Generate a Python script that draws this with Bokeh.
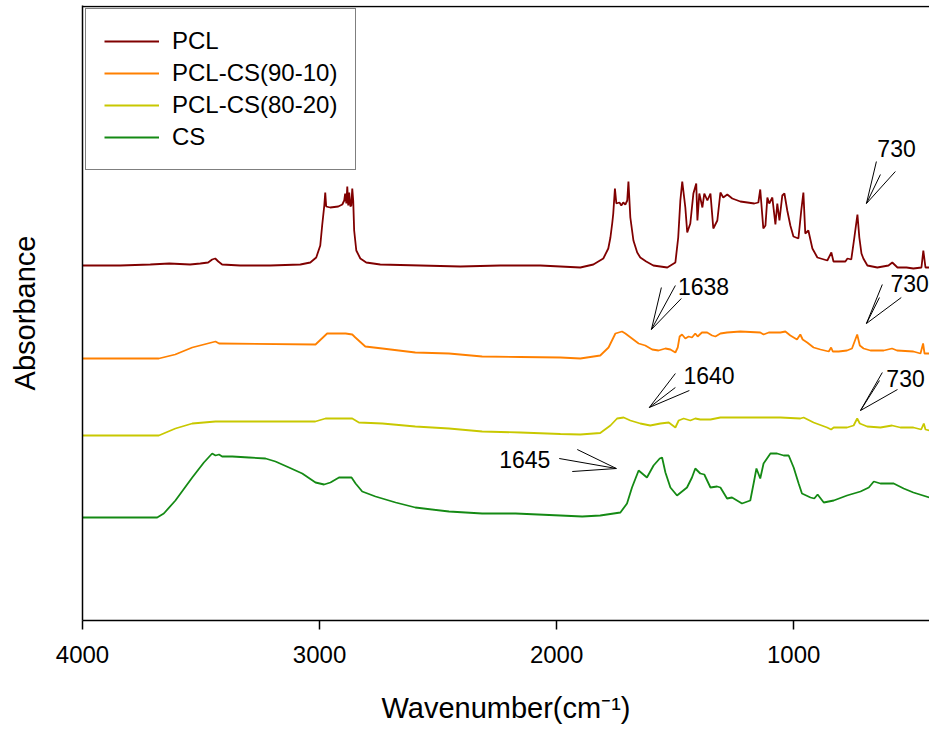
from bokeh.plotting import figure
from bokeh.models import Range1d, FixedTicker, Legend, LegendItem, Label, Span
from bokeh.embed import file_html
from bokeh.resources import INLINE

FONT = "Liberation Sans"

# ---- spectra (wavenumber in cm-1, absorbance in arbitrary offset units) ----
pcl_wn = [4000, 3841, 3714, 3634, 3546, 3503, 3470, 3453, 3440, 3427, 3411, 3335, 3208, 3081, 3039, 3014,
          2997, 2989, 2980, 2976, 2972, 2955, 2921, 2904, 2896, 2892, 2887, 2883, 2879, 2875, 2870, 2866,
          2862, 2858, 2854, 2845, 2828, 2803, 2744, 2575, 2406, 2238, 2069, 1984, 1900, 1845, 1803, 1782,
          1773, 1765, 1761, 1754, 1748, 1735, 1727, 1719, 1710, 1702, 1697, 1689, 1676, 1660, 1647, 1622,
          1592, 1533, 1499, 1487, 1478, 1470, 1457, 1449, 1436, 1423, 1411, 1406, 1398, 1385, 1377, 1364,
          1351, 1339, 1322, 1309, 1297, 1280, 1259, 1225, 1195, 1166, 1149, 1141, 1128, 1119, 1111, 1103,
          1090, 1077, 1069, 1060, 1048, 1039, 1027, 1014, 1001, 980, 968, 959, 951, 938, 921, 900, 858, 841,
          832, 782, 773, 757, 744, 731, 723, 714, 706, 689, 647, 600, 584, 562, 524, 495, 461, 453, 444, 427]
pcl_abs = [355, 355, 356, 357, 356, 357, 358, 361, 362, 359, 356, 355, 355, 356, 358, 363,
           375, 395, 415, 428, 414, 413, 414, 416, 420, 427, 417, 434, 415, 428, 414, 415,
           432, 420, 390, 370, 362, 358, 356, 355, 354, 355, 355, 354, 353, 356, 362, 372,
           383, 398, 407, 432, 417, 418, 415, 418, 416, 420, 439, 403, 380, 368, 363, 359,
           355, 353, 358, 383, 420, 439, 413, 388, 397, 427, 437, 400, 427, 413, 427, 420,
           427, 392, 400, 428, 423, 426, 422, 419, 418, 417, 418, 431, 392, 395, 423, 417,
           423, 396, 417, 400, 425, 427, 410, 395, 384, 382, 410, 428, 387, 390, 372, 363, 360, 368,
           359, 359, 362, 361, 383, 406, 383, 367, 362, 355, 353, 355, 358, 353, 353, 352, 353, 370, 353, 353]

pcl90_wn = [4000, 3678, 3609, 3537, 3439, 3424, 3017, 2968, 2890, 2862, 2849, 2807, 2735, 2596, 2454, 2314,
            2153, 1984, 1900, 1816, 1781, 1752, 1724, 1710, 1682, 1654, 1626, 1597, 1570, 1541, 1520, 1499,
            1489, 1481, 1471, 1457, 1443, 1429, 1415, 1405, 1387, 1365, 1344, 1330, 1309, 1281, 1225, 1141,
            1127, 1105, 1056, 1035, 1014, 986, 972, 962, 943, 916, 887, 852, 842, 835, 810, 775, 754, 732,
            721, 705, 676, 620, 585, 564, 495, 465, 454, 448, 427]
pcl90_abs = [262, 262, 266, 273, 279, 277, 276, 287, 287, 286, 283, 274, 272, 268, 267, 264,
             263.5, 263, 262, 265, 273, 287, 289, 287, 282, 277, 275, 271, 270, 272, 271, 268,
             273, 284, 286, 282, 284, 283, 287, 284, 288, 288, 285, 284, 287, 288, 289, 288,
             286, 288, 288, 289, 285, 281, 286, 281, 278, 273, 271, 269, 273, 269, 269, 270, 272, 286,
             275, 272, 270, 270, 272, 270, 269, 267, 277, 267, 267]

pcl80_wn = [4000, 3678, 3608, 3537, 3439, 3018, 2975, 2862, 2834, 2735, 2596, 2454, 2314, 2153, 1984, 1900,
            1816, 1773, 1745, 1717, 1689, 1647, 1605, 1562, 1527, 1499, 1485, 1464, 1436, 1415, 1394, 1351,
            1309, 1197, 1056, 972, 958, 916, 859, 842, 831, 775, 747, 732, 721, 690, 634, 585, 550, 495,
            462, 451, 444, 427]
pcl80_abs = [185, 185, 192, 197, 199, 199, 202, 202, 198, 197, 194, 192, 189, 188, 186.5, 186,
             187.5, 195, 202, 203, 200, 197, 195, 197, 198, 193, 200, 202, 200, 202, 201, 201,
             203, 203, 203, 202, 203, 198, 193, 191, 193, 193, 195, 202, 197, 194, 193, 195, 193, 193,
             191, 197, 191, 190]

cs_wn = [4000, 3685, 3657, 3608, 3537, 3488, 3453, 3439, 3424, 3411, 3368, 3298, 3228, 3186, 3129, 3073,
         3017, 2981, 2954, 2918, 2890, 2865, 2848, 2820, 2764, 2679, 2596, 2454, 2314, 2173, 1984, 1892,
         1816, 1731, 1703, 1682, 1654, 1619, 1591, 1565, 1555, 1541, 1520, 1492, 1450, 1429, 1415, 1394,
         1377, 1351, 1323, 1309, 1281, 1260, 1218, 1183, 1169, 1157, 1141, 1127, 1098, 1070, 1042, 1021,
         1000, 979, 965, 929, 913, 899, 873, 831, 775, 718, 683, 662, 634, 578, 536, 495, 427]
cs_abs = [103, 103, 107, 120, 143, 158, 167, 165, 166, 164, 164, 163, 162, 159, 153, 147,
          138, 136, 138, 143, 143, 143, 137, 129, 124, 118, 113, 109, 107, 107, 105, 104,
          105, 108, 117, 133, 150, 143, 155, 162, 163, 148, 133, 125, 133, 143, 152, 147,
          146, 133, 134, 133, 122, 123, 117, 120, 137, 152, 142, 157, 167, 167, 165, 165,
          153, 137, 127, 123, 122, 126, 118, 120, 125, 129, 133, 139, 137, 137, 132, 128, 123]

series_names = ["PCL", "PCL-CS(90-10)", "PCL-CS(80-20)", "CS"]
series_colors = ["#800000", "#FF8000", "#C8C800", "#148A14"]
series_x = [pcl_wn, pcl90_wn, pcl80_wn, cs_wn]
series_y = [pcl_abs, pcl90_abs, pcl80_abs, cs_abs]

x_ticks = [4000, 3000, 2000, 1000]

# ---- peak annotations: label, text anchor, arrow tip, three arrow line ends ----
ann_text = ["730", "1638", "730", "1640", "730", "1645"]
ann_tx = [647, 1488, 592, 1465, 609, 2242]
ann_ty = [472, 334, 337, 245, 242, 161]
tip_x = [693, 1600, 693, 1609, 718, 1748]
tip_y = [417, 291, 297, 213, 210, 152]
end_x = [[651, 634, 571], [1558, 1499, 1474], [626, 638, 546], [1499, 1499, 1440], [626, 638, 562], [1989, 1913, 1934]]
end_y = [[459, 446, 449], [333, 335, 322], [336, 323, 323], [247, 233, 230], [248, 240, 231], [162, 171, 149]]

p = figure(width=929, height=731, output_backend="svg", toolbar_location=None,
           x_range=Range1d(4000, 427), y_range=Range1d(0, 615),
           min_border_left=82, min_border_right=0, min_border_top=5, min_border_bottom=111)
p.outline_line_color = None
p.grid.visible = False
p.background_fill_color = "white"
p.border_fill_color = "white"

renderers = []
for xs, ys, c in zip(series_x, series_y, series_colors):
    renderers.append(p.line(xs, ys, line_color=c, line_width=1.8))

# arrows
for i in range(len(ann_text)):
    x0 = [tip_x[i]] * 3
    y0 = [tip_y[i]] * 3
    p.segment(x0=x0, y0=y0, x1=end_x[i], y1=end_y[i], line_color="black", line_width=1)
    p.add_layout(Label(x=ann_tx[i], y=ann_ty[i], text=ann_text[i], text_font=FONT,
                       text_font_size="23px", text_color="black", text_baseline="alphabetic",
                       text_align="left"))

# top frame line
p.add_layout(Span(location=614, dimension="width", line_color="black", line_width=1.5))

# axes
xa = p.xaxis[0]
xa.ticker = FixedTicker(ticks=x_ticks)
xa.minor_tick_line_color = None
xa.major_tick_in = 0
xa.major_tick_out = 9
xa.major_tick_line_color = "black"
xa.major_tick_line_width = 1.5
xa.axis_line_color = "black"
xa.axis_line_width = 1.5
xa.major_label_text_font = FONT
xa.major_label_text_font_size = "24px"
xa.major_label_text_color = "black"
xa.major_label_standoff = 16
xa.axis_label = "Wavenumber(cm\u207b\u00b9)"
xa.axis_label_text_font = FONT
xa.axis_label_text_font_size = "29px"
xa.axis_label_text_font_style = "normal"
xa.axis_label_text_color = "black"
xa.axis_label_standoff = 26

ya = p.yaxis[0]
ya.ticker = FixedTicker(ticks=[])
ya.minor_tick_line_color = None
ya.major_tick_line_color = None
ya.major_label_text_font_size = "0px"
ya.axis_line_color = "black"
ya.axis_line_width = 1.5
ya.axis_label = "Absorbance"
ya.axis_label_text_font = FONT
ya.axis_label_text_font_size = "29px"
ya.axis_label_text_font_style = "normal"
ya.axis_label_text_color = "black"
ya.axis_label_standoff = 42

legend = Legend(items=[LegendItem(label=n, renderers=[r]) for n, r in zip(series_names, renderers)],
                location="top_left")
legend.margin = 3
legend.padding = 18
legend.spacing = 4
legend.label_height = 24
legend.glyph_height = 24
legend.glyph_width = 55
legend.label_standoff = 13
legend.label_text_font = FONT
legend.label_text_font_size = "24px"
legend.label_text_color = "black"
legend.border_line_color = "black"
legend.border_line_width = 1.5
legend.background_fill_color = "white"
legend.background_fill_alpha = 1.0
p.add_layout(legend)

open("out.html", "w").write(file_html(p, INLINE))
